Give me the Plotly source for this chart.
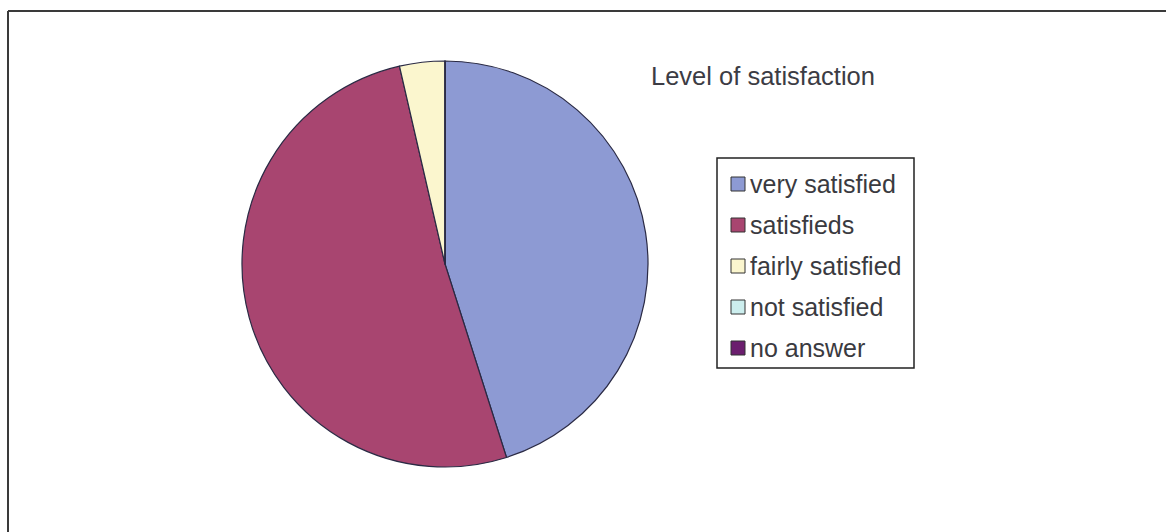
import plotly.graph_objects as go

labels = ["very satisfied", "satisfieds", "fairly satisfied", "not satisfied", "no answer"]
values = [45.1, 51.3, 3.6, 0, 0]
colors = ["#8D9AD3", "#A84570", "#FBF6CE", "#CCEEEE", "#6B1E6E"]
title_text = "Level of satisfaction"

W, H = 1166, 532
cx, cy, r = 445, 264, 203

fig = go.Figure()
fig.add_trace(go.Pie(
    labels=labels, values=values, sort=False, direction="clockwise", rotation=0,
    marker=dict(colors=colors, line=dict(color="#2a2a44", width=1.2)),
    textinfo="none", hoverinfo="label+value", showlegend=False,
    domain=dict(x=[(cx - r) / W, (cx + r) / W], y=[(H - cy - r) / H, (H - cy + r) / H]),
))

shapes = []
annotations = []
# outer frame (top and left edges visible)
shapes.append(dict(type="line", xref="paper", yref="paper", x0=8 / W, x1=1.0, y0=1 - 11 / H, y1=1 - 11 / H,
                   line=dict(color="#3a3a3a", width=2)))
shapes.append(dict(type="line", xref="paper", yref="paper", x0=8 / W, x1=8 / W, y0=1 - 11 / H, y1=0,
                   line=dict(color="#3a3a3a", width=2)))

# title
annotations.append(dict(text=title_text, xref="paper", yref="paper", x=649 / W, y=1 - 76 / H,
                        xanchor="left", yanchor="middle", showarrow=False,
                        font=dict(family="Liberation Sans", size=25.5, color="#3c3c44")))

# legend box
lx0, lx1, ly0, ly1 = 717, 914, 158, 368
shapes.append(dict(type="rect", xref="paper", yref="paper", x0=lx0 / W, x1=lx1 / W,
                   y0=1 - ly1 / H, y1=1 - ly0 / H, line=dict(color="#222222", width=1.5),
                   fillcolor="white", layer="below"))
row0, gap, sq = 184, 41, 14
for i, (lab, col) in enumerate(zip(labels, colors)):
    yc = row0 + i * gap
    shapes.append(dict(type="rect", xref="paper", yref="paper", x0=731 / W, x1=(731 + sq) / W,
                       y0=1 - (yc + sq / 2) / H, y1=1 - (yc - sq / 2) / H,
                       line=dict(color="#333333", width=1), fillcolor=col))
    annotations.append(dict(text=lab, xref="paper", yref="paper", x=748 / W, y=1 - yc / H,
                            xanchor="left", yanchor="middle", showarrow=False,
                            font=dict(family="Liberation Sans", size=25, color="#3a3a40")))

fig.update_layout(
    width=W, height=H, margin=dict(l=0, r=0, t=0, b=0),
    paper_bgcolor="white", plot_bgcolor="white",
    shapes=shapes, annotations=annotations,
)
fig.write_html("out.html")
